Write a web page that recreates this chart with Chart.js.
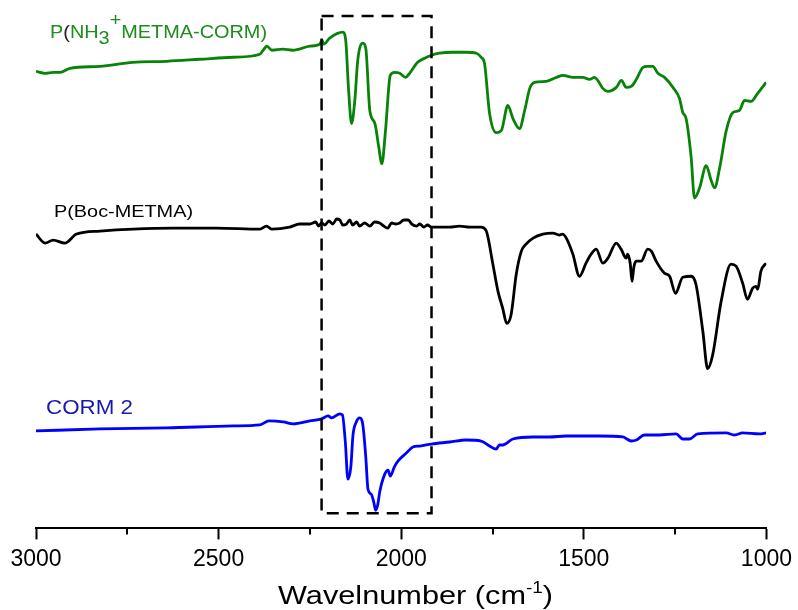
<!DOCTYPE html>
<html>
<head>
<meta charset="utf-8">
<script src="https://cdn.jsdelivr.net/npm/chart.js@4.4.0/dist/chart.umd.min.js"></script>
<style>
body { margin: 0; background: #fff; }
#wrap { width: 798px; height: 610px; }
</style>
</head>
<body>
<div id="wrap"><canvas id="ftir" width="798" height="610"></canvas></div>
<script>
// x axis (wavenumber, cm-1)
var xTicks = [3000, 2500, 2000, 1500, 1000];
var xMinor = [2750, 2250, 1750, 1250];

// dashed box around the CO stretching region
var boxWn = [2218, 1917];
var boxY = [15, 510];

// P(NH3+ METMA-CORM), offset transmittance (a.u.)
var greenWn = [3000,2975,2953,2934,2907,2825,2735,2642,2551,2461,
  2387,2376,2368,2354,2324,2297,2250,2223,2217,2212,
  2196,2160,2152,2144,2136,2127,2119,2105,2097,2086,
  2072,2062,2053,2043,2030,2018,2004,1988,1977,1955,
  1936,1917,1895,1859,1822,1794,1781,1772,1758,1740,
  1726,1708,1694,1676,1662,1648,1635,1603,1575,1557,
  1530,1503,1484,1471,1462,1448,1434,1411,1397,1384,
  1370,1356,1338,1326,1311,1297,1279,1256,1238,1229,
  1220,1206,1197,1183,1165,1151,1142,1128,1110,1092,
  1074,1060,1042,1024,1001];
var greenT = [455,453,454,454,458,460,464,465,467,469,
  472,477,480,476,477,476,480,482,486,482,
  488,494,486,436,403,426,466,483,478,416,
  403,381,363,396,451,454,453,449,453,464,
  468,471,473,474,474,473,469,463,413,394,
  396,421,408,398,416,438,444,445,449,451,
  449,449,447,449,446,438,435,439,446,439,
  440,447,459,460,460,453,449,439,428,414,
  408,369,329,339,361,346,339,359,396,414,
  416,426,425,433,444];

// P(Boc-METMA)
var bocWn = [3000,2975,2953,2921,2889,2825,2734,2624,2506,2387,
  2369,2355,2305,2278,2250,2234,2226,2218,2209,2198,
  2187,2177,2168,2160,2150,2141,2133,2122,2114,2100,
  2086,2073,2059,2048,2037,2026,2015,2004,1993,1981,
  1971,1958,1949,1938,1928,1917,1895,1867,1840,1813,
  1781,1767,1749,1735,1722,1711,1699,1685,1671,1658,
  1639,1612,1585,1567,1558,1548,1530,1512,1494,1480,
  1466,1448,1434,1411,1398,1384,1380,1373,1368,1363,
  1357,1343,1325,1315,1302,1279,1265,1249,1229,1206,
  1193,1174,1161,1147,1124,1097,1083,1065,1052,1038,
  1029,1024,1015,1001];
var bocT = [293,284,287,284,293,296,298,299,299,298,
  301,298,300,303,303,305,301,304,302,306,
  303,308,307,302,303,307,302,305,301,304,
  301,305,304,301,299,304,303,304,307,307,
  303,301,303,300,302,300,300,300,301,300,
  300,296,263,236,219,204,213,253,276,283,
  289,293,294,292,293,289,273,251,264,273,
  278,264,269,284,278,269,273,264,246,260,
  266,266,278,276,266,254,251,234,250,251,
  243,196,159,173,226,263,261,244,228,239,
  241,238,256,264];

// CORM 2
var cormWn = [3000,2825,2642,2460,2387,2362,2323,2296,2250,2218,
  2200,2191,2168,2161,2153,2146,2138,2132,2123,2114,
  2105,2097,2091,2082,2075,2070,2064,2059,2045,2036,
  2030,2019,2009,1986,1968,1949,1917,1867,1822,1781,
  1758,1740,1731,1722,1694,1640,1594,1548,1504,1457,
  1393,1370,1356,1334,1293,1247,1229,1211,1188,1110,
  1088,1065,1019,1001];
var cormT = [97,99,100,102,103,107,106,104,107,109,
  112,110,114,113,86,49,61,93,106,110,
  103,71,39,34,26,18,24,36,54,58,
  52,61,67,75,81,82,84,86,88,87,
  82,79,83,83,89,91,91,92,92,92,
  91,87,88,93,93,94,89,89,94,95,
  93,95,94,95];

var FONT = '"Liberation Sans", Arial, sans-serif';

function toPoints(wn, t) {
    return wn.map(function(v, i) { return { x: v, y: t[i] }; });
}

function drawRuns(ctx, runs, x, base, fitWidth) {
    var total = 0;
    runs.forEach(function(r) {
        ctx.font = r.size + 'px ' + FONT;
        r.w = ctx.measureText(r.text).width;
        total += r.w;
    });
    var sx = fitWidth ? fitWidth / total : 1;
    ctx.save();
    ctx.translate(x, base);
    ctx.scale(sx, 1);
    ctx.textAlign = 'left';
    ctx.textBaseline = 'alphabetic';
    var cx = 0;
    runs.forEach(function(r) {
        ctx.font = r.size + 'px ' + FONT;
        ctx.fillStyle = r.color;
        ctx.fillText(r.text, cx, r.dy || 0);
        cx += r.w;
    });
    ctx.restore();
}

var overlay = {
    id: 'overlay',
    afterDraw: function(chart) {
        var ctx = chart.ctx, xs = chart.scales.x, ys = chart.scales.y;
        var area = chart.chartArea;

        // dashed box
        ctx.save();
        ctx.strokeStyle = '#000';
        ctx.lineWidth = 2.5;
        ctx.setLineDash([12, 8]);
        var l = xs.getPixelForValue(boxWn[0]), r = xs.getPixelForValue(boxWn[1]);
        var t = ys.getPixelForValue(boxY[1]), b = ys.getPixelForValue(boxY[0]);
        ctx.strokeRect(l, t, r - l, b - t);
        ctx.restore();

        // minor ticks
        ctx.save();
        ctx.strokeStyle = '#000';
        ctx.lineWidth = 2;
        xMinor.forEach(function(v) {
            var px = Math.round(xs.getPixelForValue(v));
            ctx.beginPath();
            ctx.moveTo(px, area.bottom);
            ctx.lineTo(px, area.bottom + 6);
            ctx.stroke();
        });
        ctx.restore();

        var green = '#1d8c1d';
        drawRuns(ctx, [
            { text: 'P', size: 18, color: green },
            { text: '(', size: 18, color: '#222' },
            { text: 'NH', size: 18, color: green },
            { text: '3', size: 18, color: green, dy: 6 },
            { text: '+', size: 18, color: green, dy: -12 },
            { text: 'METMA-CORM)', size: 18, color: green }
        ], 50, 38, 217);

        drawRuns(ctx, [{ text: 'P(Boc-METMA)', size: 17, color: '#000' }], 54, 217, 139);
        drawRuns(ctx, [{ text: 'CORM 2', size: 20, color: '#1818b0' }], 46, 414, 87);

        drawRuns(ctx, [
            { text: 'Wavelnumber (cm', size: 26, color: '#000' },
            { text: '-1', size: 16, color: '#000', dy: -11 },
            { text: ')', size: 26, color: '#000' }
        ], 278, 604, 275);
    }
};

var lineStyle = { pointRadius: 0, borderWidth: 2.8, cubicInterpolationMode: 'monotone', fill: false };

new Chart(document.getElementById('ftir').getContext('2d'), {
    type: 'line',
    data: {
        datasets: [
            Object.assign({ label: 'P(NH3+ METMA-CORM)', data: toPoints(greenWn, greenT), borderColor: '#078407' }, lineStyle),
            Object.assign({ label: 'P(Boc-METMA)', data: toPoints(bocWn, bocT), borderColor: '#000000' }, lineStyle),
            Object.assign({ label: 'CORM 2', data: toPoints(cormWn, cormT), borderColor: '#0000ff' }, lineStyle)
        ]
    },
    options: {
        responsive: false,
        animation: false,
        layout: { padding: { left: 36, right: 31, top: 0, bottom: 31 } },
        plugins: { legend: { display: false }, tooltip: { enabled: false } },
        scales: {
            x: {
                type: 'linear',
                reverse: true,
                min: 1000,
                max: 3000,
                afterBuildTicks: function(scale) {
                    scale.ticks = xTicks.map(function(v) { return { value: v }; });
                },
                border: { display: true, color: '#000', width: 2 },
                grid: { drawOnChartArea: false, drawTicks: true, tickLength: 11, tickWidth: 2, tickColor: '#000' },
                ticks: {
                    color: '#000', font: { family: FONT, size: 23 }, padding: 6, maxRotation: 0,
                    callback: function(v) { return String(v); }
                }
            },
            y: { display: false, min: 0, max: 526 }
        }
    },
    plugins: [overlay]
});
</script>
</body>
</html>
